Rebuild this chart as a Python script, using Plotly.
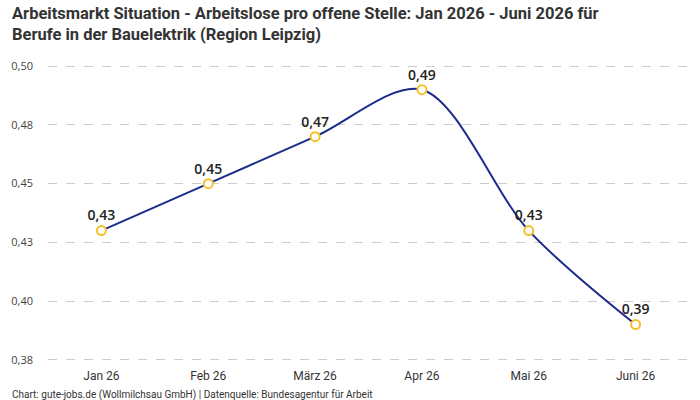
import plotly.graph_objects as go

months = ["Jan 26", "Feb 26", "März 26", "Apr 26", "Mai 26", "Juni 26"]
values = [0.43, 0.45, 0.47, 0.49, 0.43, 0.39]
labels = ["0,43", "0,45", "0,47", "0,49", "0,43", "0,39"]
ytick_vals = [0.375, 0.40, 0.425, 0.45, 0.475, 0.50]
ytick_text = ["0,38", "0,40", "0,43", "0,45", "0,48", "0,50"]

cond = "Liberation Sans Narrow, Roboto, sans-serif"

fig = go.Figure()
fig.add_trace(go.Scatter(
    x=months, y=values, mode="lines+markers+text",
    line=dict(color="#1c2b8c", width=2, shape="spline", smoothing=0.9),
    marker=dict(symbol="circle", size=9, color="white",
                line=dict(color="#f5c02a", width=2)),
    text=labels, textposition="top center",
    textfont=dict(family="Open Sans, sans-serif", size=14, color="#222", weight=600),
    cliponaxis=False, hoverinfo="skip",
))

fig.update_layout(
    width=700, height=400,
    margin=dict(l=47.5, r=10.5, t=65, b=39, autoexpand=False),
    paper_bgcolor="white", plot_bgcolor="white",
    showlegend=False,
    xaxis=dict(
        range=[-0.5, 5.5], automargin=False,
        showgrid=False, zeroline=False, showline=False, ticks="",
        ticklabelstandoff=6,
        tickfont=dict(family=cond, size=12, color="#333"),
    ),
    yaxis=dict(
        range=[0.3745, 0.5005], tickmode="array", automargin=False,
        tickvals=ytick_vals, ticktext=ytick_text,
        showgrid=True, gridcolor="#cccccc", griddash="dash", gridwidth=1,
        zeroline=False, showline=False, ticks="",
        ticklabelstandoff=14,
        tickfont=dict(family="Open Sans, sans-serif", size=11, color="#444"),
    ),
    annotations=[
        dict(
            text="<b>Arbeitsmarkt Situation - Arbeitslose pro offene Stelle: Jan 2026 - Juni 2026 für<br>Berufe in der Bauelektrik (Region Leipzig)</b>",
            xref="paper", yref="paper", x=-0.059, y=1.212,
            xanchor="left", yanchor="top", align="left", showarrow=False,
            font=dict(family=cond, size=16.5, color="#333"),
        ),
        dict(
            text="Chart: gute-jobs.de (Wollmilchsau GmbH) | Datenquelle: Bundesagentur für Arbeit",
            xref="paper", yref="paper", x=-0.059, y=-0.087,
            xanchor="left", yanchor="top", showarrow=False,
            font=dict(family=cond, size=10, color="#333"),
        ),
    ],
)

fig.write_html("out.html")
